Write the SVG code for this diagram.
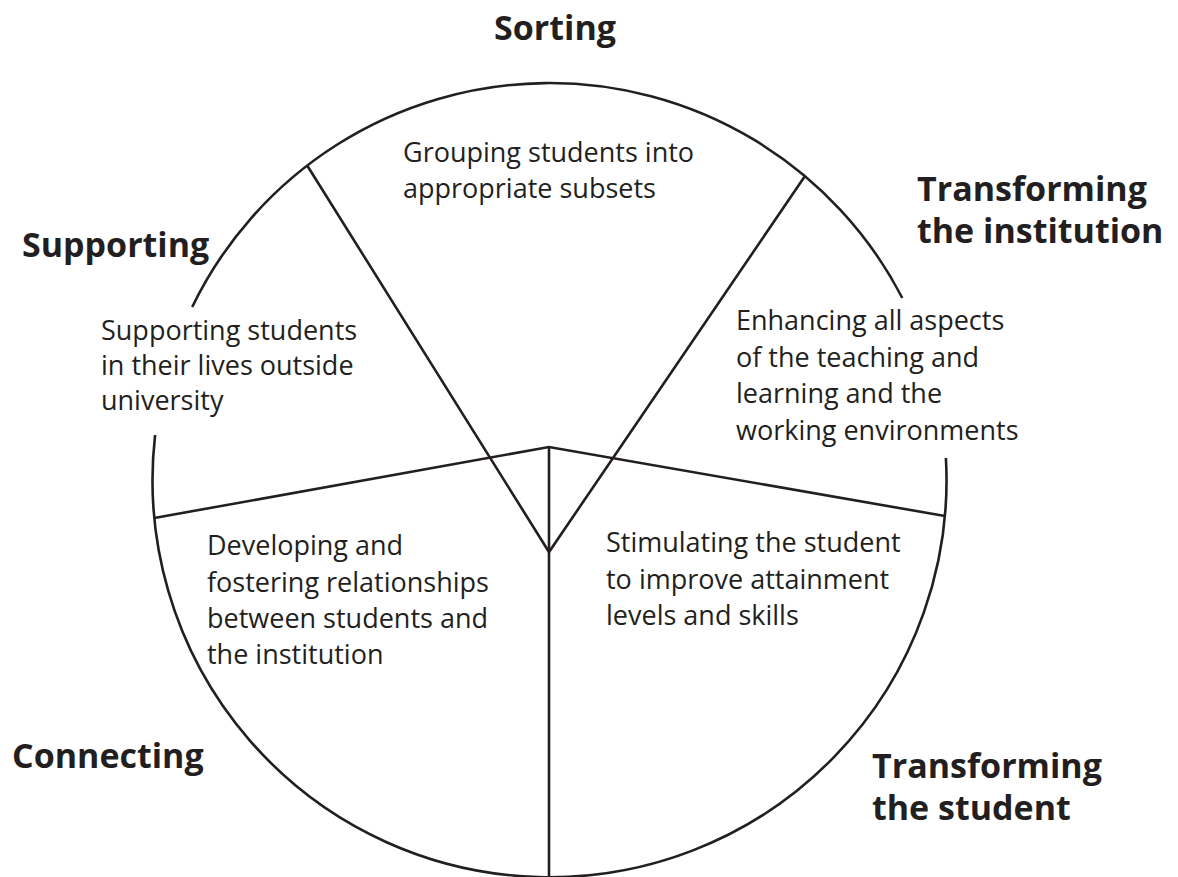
<svg xmlns="http://www.w3.org/2000/svg" width="1178" height="877" viewBox="0 0 1178 877">
<style>
.ln{fill:none;stroke:#231f20;stroke-width:2.6;stroke-linecap:butt;stroke-linejoin:miter}
.lbl{font-family:"Open Sans","Liberation Sans",sans-serif;font-weight:700;font-size:34px;fill:#231f20}
.body{font-family:"Open Sans","Liberation Sans",sans-serif;font-weight:400;font-size:27px;fill:#231f20}
</style>
<rect width="1178" height="877" fill="#ffffff"/>
<g id="connectors">
<path class="ln" d="M192.2,307 A397,397 0 0 1 902.3,298"/>
<path class="ln" d="M945.9,458 A397,397 0 1 1 155.1,435"/>
<path class="ln" d="M307.5,166 L549,552 L805,176"/>
<path class="ln" d="M154.3,518 L549,447 L944.9,516"/>
<path class="ln" d="M549,447 L549,877"/>
</g>
<g id="sorting">
<text class="lbl" x="555" y="40" text-anchor="middle">Sorting</text>
<text class="body" x="403" y="162">Grouping students into</text>
<text class="body" x="403" y="198">appropriate subsets</text>
</g>
<g id="supporting">
<text class="lbl" x="22" y="257">Supporting</text>
<text class="body" x="101" y="340">Supporting students</text>
<text class="body" x="101" y="375">in their lives outside</text>
<text class="body" x="101" y="410">university</text>
</g>
<g id="transforming-institution">
<text class="lbl" x="917" y="201">Transforming</text>
<text class="lbl" x="917" y="243">the institution</text>
<text class="body" x="736" y="330">Enhancing all aspects</text>
<text class="body" x="736" y="366.5">of the teaching and</text>
<text class="body" x="736" y="403">learning and the</text>
<text class="body" x="736" y="439.5">working environments</text>
</g>
<g id="connecting">
<text class="lbl" x="12" y="768">Connecting</text>
<text class="body" x="207" y="555">Developing and</text>
<text class="body" x="207" y="591.5">fostering relationships</text>
<text class="body" x="207" y="627.5">between students and</text>
<text class="body" x="207" y="663.5">the institution</text>
</g>
<g id="transforming-student">
<text class="lbl" x="872" y="778">Transforming</text>
<text class="lbl" x="872" y="820">the student</text>
<text class="body" x="606" y="552">Stimulating the student</text>
<text class="body" x="606" y="589">to improve attainment</text>
<text class="body" x="606" y="625">levels and skills</text>
</g>
</svg>
